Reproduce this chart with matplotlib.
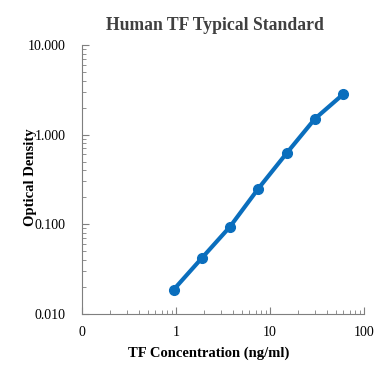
import matplotlib.pyplot as plt
from matplotlib.ticker import LogLocator, NullFormatter

conc = [0.94, 1.88, 3.75, 7.5, 15, 30, 60]
od = [0.0186, 0.042, 0.094, 0.25, 0.62, 1.5, 2.82]
xticks = [0.1, 1, 10, 100]
xlabels = ['0', '1', '10', '100']
yticks = [0.01, 0.1, 1, 10]
ylabels = ['0.010', '0.100', '1.000', '10.000']

plt.rcParams['font.family'] = ['Liberation Serif', 'DejaVu Serif']

fig = plt.figure(figsize=(3.89, 3.9), dpi=100)
ax = fig.add_axes([0.211, 0.195, 0.725, 0.69])
ax.plot(conc, od, color='#0a6ebd', lw=3, marker='o', ms=7, solid_capstyle='round')
ax.set_xscale('log')
ax.set_yscale('log')
ax.set_xlim(0.1, 100)
ax.set_ylim(0.01, 10)
ax.set_xticks(xticks)
ax.set_xticklabels(xlabels)
ax.set_yticks(yticks)
ax.set_yticklabels(ylabels)
ax.xaxis.set_minor_locator(LogLocator(base=10, subs=range(2, 10)))
ax.yaxis.set_minor_locator(LogLocator(base=10, subs=range(2, 10)))
ax.xaxis.set_minor_formatter(NullFormatter())
ax.yaxis.set_minor_formatter(NullFormatter())
ax.tick_params(which='both', direction='in', colors='#7f7f7f', labelcolor='black', labelsize=10)
ax.tick_params(which='major', length=5)
ax.tick_params(which='minor', length=3)
ax.tick_params(axis='x', pad=9)
ax.tick_params(axis='y', pad=12)
for s in ['top', 'right']:
    ax.spines[s].set_visible(False)
for s in ['left', 'bottom']:
    ax.spines[s].set_color('#7f7f7f')

ax.set_title('Human TF Typical Standard', fontsize=12.7, fontweight='bold', color='#404040', pad=11, x=0.47)
ax.set_xlabel('TF Concentration (ng/ml)', fontsize=10.5, fontweight='bold')
ax.xaxis.set_label_coords(0.45, -0.12)
ax.set_ylabel('Optical Density', fontsize=10.5, fontweight='bold')
ax.yaxis.set_label_coords(-0.16, 0.51)

fig.savefig('out.png', dpi=100)
